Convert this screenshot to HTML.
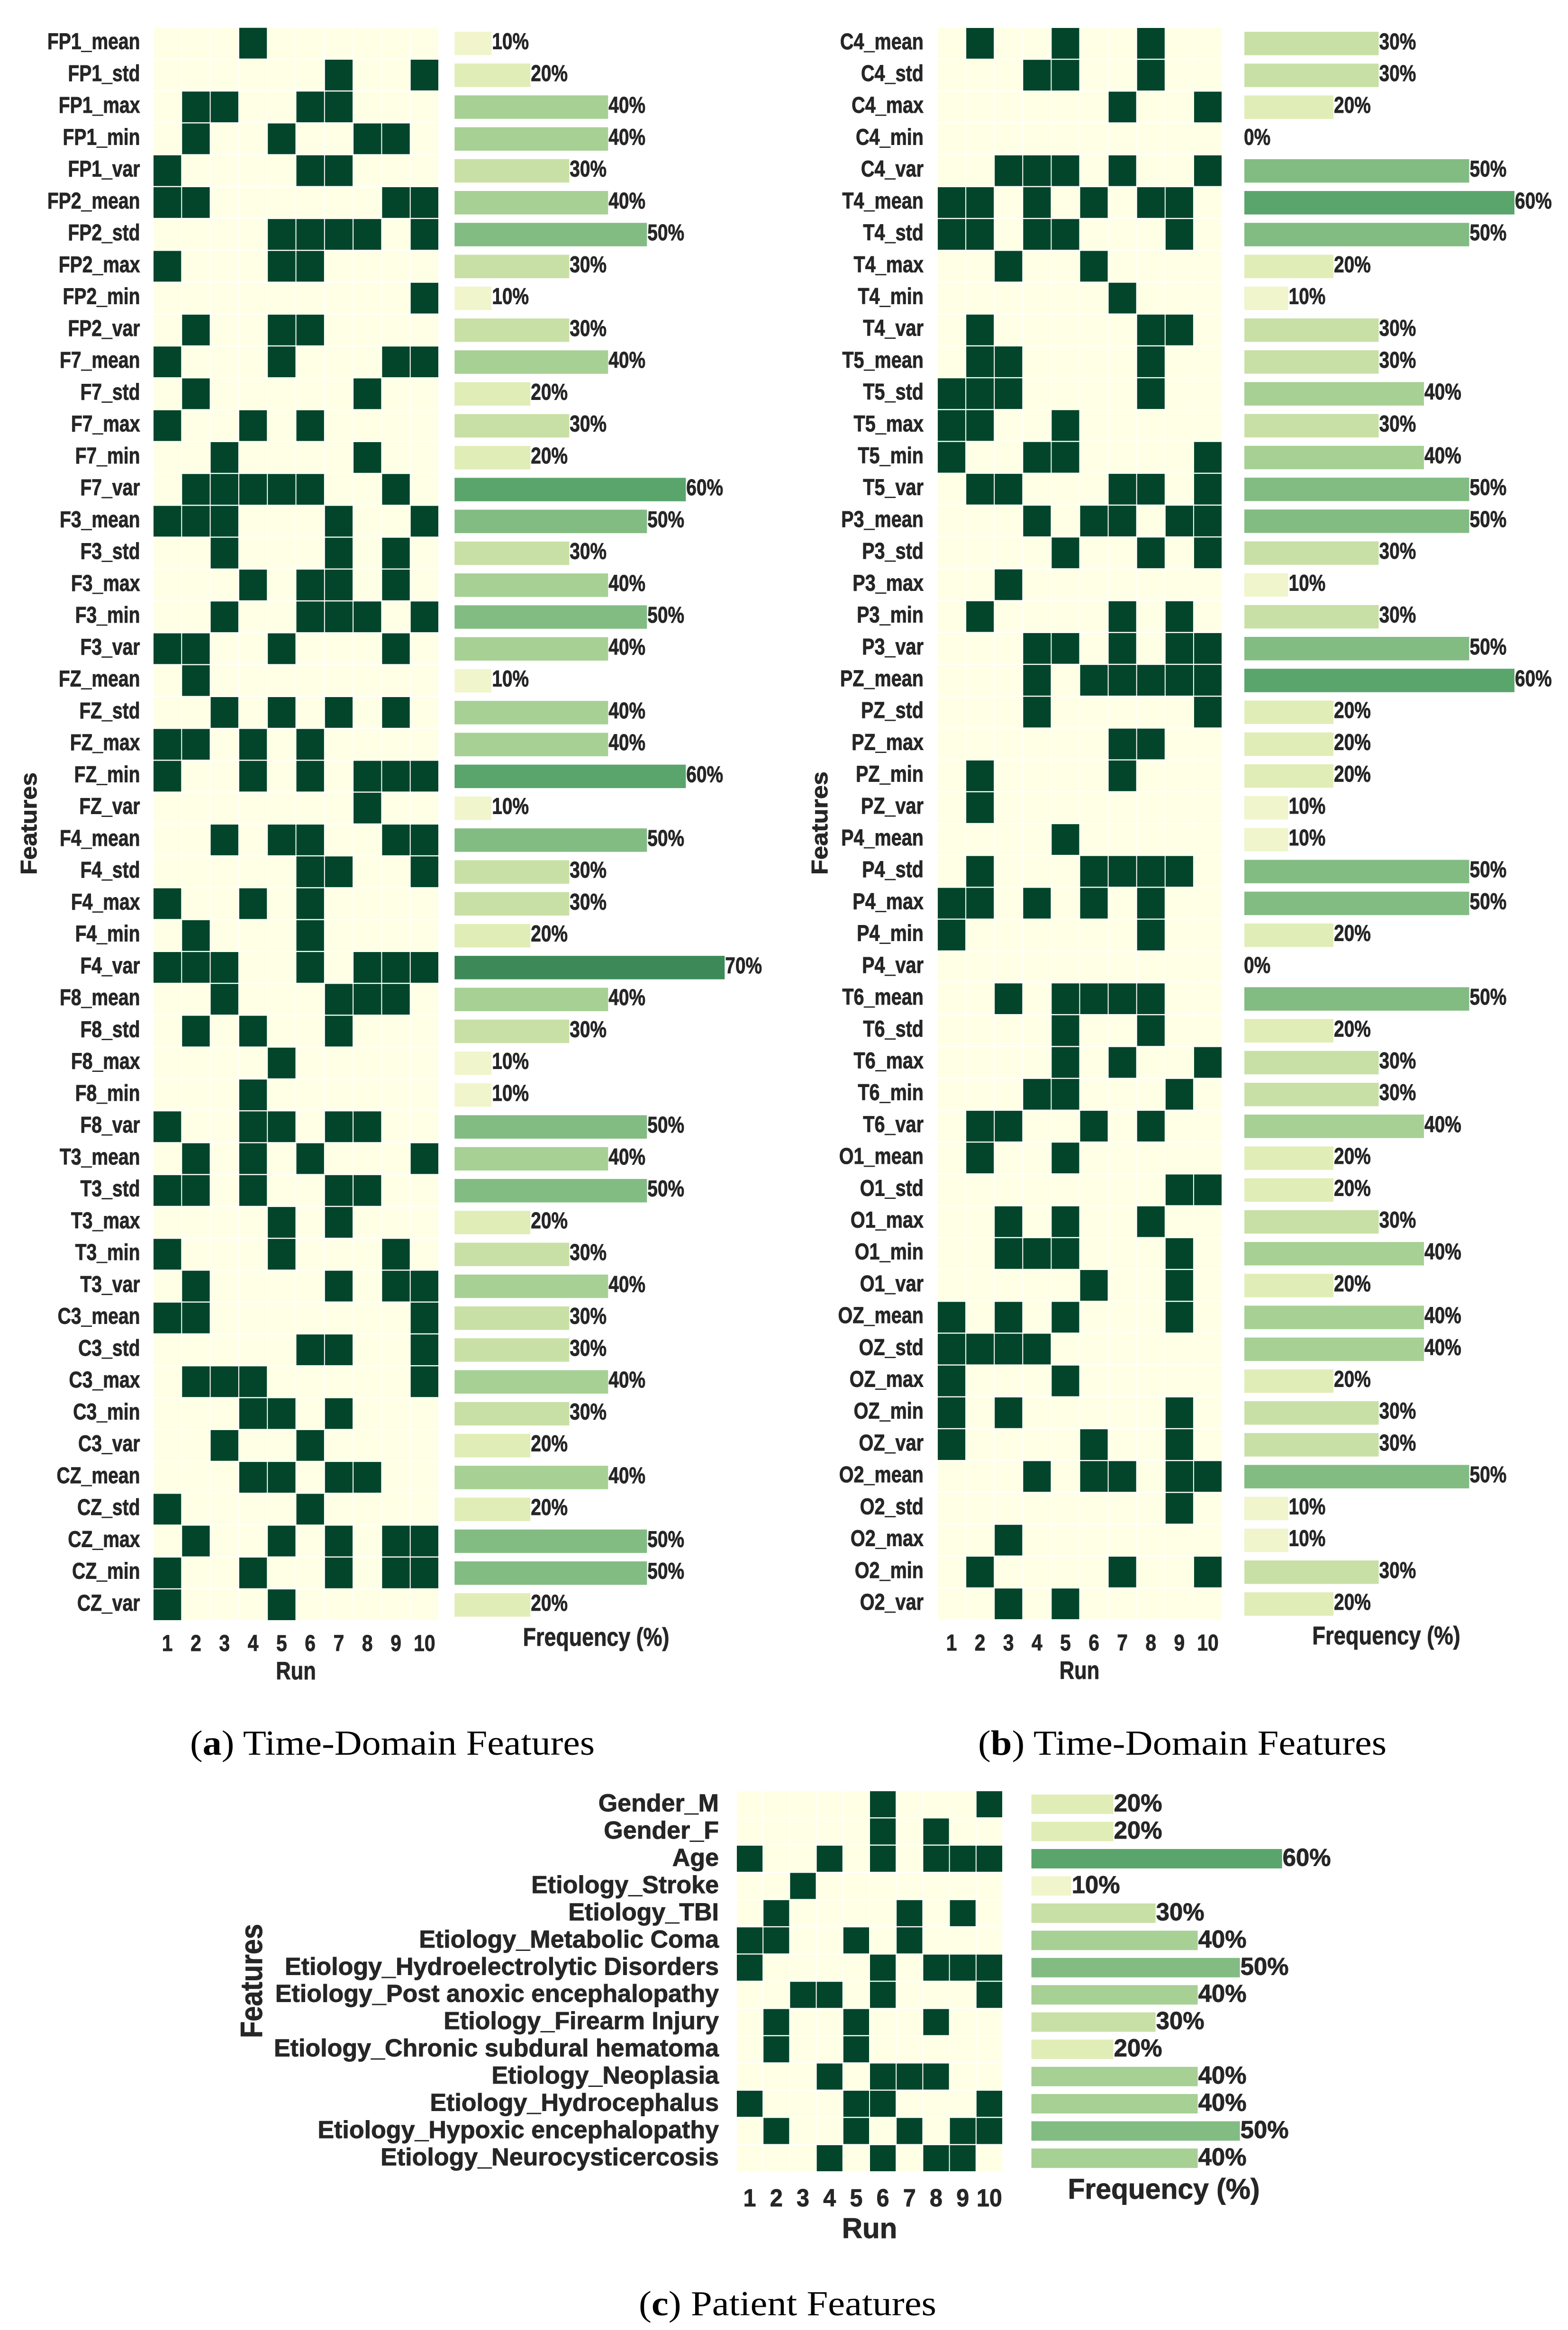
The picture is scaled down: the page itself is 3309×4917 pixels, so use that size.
<!DOCTYPE html>
<html lang="en">
<head>
<meta charset="utf-8">
<title>Feature selection frequency across runs</title>
<style>
  html, body { margin: 0; padding: 0; background: #ffffff; }
  svg { display: block; }
  .sans { font-family: "Liberation Sans", sans-serif; font-weight: 700; fill: #262626; stroke: #262626; stroke-width: 0.9px; }
  .serif { font-family: "Liberation Serif", serif; font-weight: 400; fill: #000000; font-size: 74px; }
</style>
</head>
<body>
<svg xmlns="http://www.w3.org/2000/svg" width="3309" height="4917" viewBox="0 0 3309 4917">
  <rect x="0" y="0" width="3309" height="4917" fill="#ffffff"/>

  <g id="panel-a"></g>
  <g id="panel-b"></g>
  <g id="panel-c"></g>

  <text class="sans" font-size="48" text-anchor="middle" transform="translate(77,1738) rotate(-90) scale(1.08,1)">Features</text>
  <text class="sans" font-size="53" text-anchor="middle" transform="translate(624.5,3544) scale(0.82,1)">Run</text>
  <text class="sans" font-size="54" text-anchor="middle" transform="translate(1258,3473) scale(0.83,1)">Frequency (%)</text>
  <text class="serif" x="401" y="3703" textLength="854" lengthAdjust="spacingAndGlyphs">(<tspan font-weight="700">a</tspan>) Time-Domain Features</text>

  <text class="sans" font-size="48" text-anchor="middle" transform="translate(1746,1737) rotate(-90) scale(1.09,1)">Features</text>
  <text class="sans" font-size="53" text-anchor="middle" transform="translate(2278,3543) scale(0.82,1)">Run</text>
  <text class="sans" font-size="54" text-anchor="middle" transform="translate(2925.5,3470) scale(0.84,1)">Frequency (%)</text>
  <text class="serif" x="2064" y="3703" textLength="862" lengthAdjust="spacingAndGlyphs">(<tspan font-weight="700">b</tspan>) Time-Domain Features</text>

  <text class="sans" font-size="65" text-anchor="middle" transform="translate(553,4180.5) rotate(-90) scale(0.89,1)">Features</text>
  <text class="sans" font-size="60" text-anchor="middle" transform="translate(1835,4723)">Run</text>
  <text class="sans" font-size="60" text-anchor="middle" transform="translate(2456,4640) scale(0.98,1)">Frequency (%)</text>
  <text class="serif" x="1348" y="4886" textLength="628" lengthAdjust="spacingAndGlyphs">(<tspan font-weight="700">c</tspan>) Patient Features</text>
</svg>

<script>
const runLabels = ['1','2','3','4','5','6','7','8','9','10'];

const panelAFeatures = [
  'FP1_mean','FP1_std','FP1_max','FP1_min','FP1_var',
  'FP2_mean','FP2_std','FP2_max','FP2_min','FP2_var',
  'F7_mean','F7_std','F7_max','F7_min','F7_var',
  'F3_mean','F3_std','F3_max','F3_min','F3_var',
  'FZ_mean','FZ_std','FZ_max','FZ_min','FZ_var',
  'F4_mean','F4_std','F4_max','F4_min','F4_var',
  'F8_mean','F8_std','F8_max','F8_min','F8_var',
  'T3_mean','T3_std','T3_max','T3_min','T3_var',
  'C3_mean','C3_std','C3_max','C3_min','C3_var',
  'CZ_mean','CZ_std','CZ_max','CZ_min','CZ_var'
];
const panelASelectedRuns = [
  [4],[7,10],[2,3,6,7],[2,5,8,9],[1,6,7],
  [1,2,9,10],[5,6,7,8,10],[1,5,6],[10],[2,5,6],
  [1,5,9,10],[2,8],[1,4,6],[3,8],[2,3,4,5,6,9],
  [1,2,3,7,10],[3,7,9],[4,6,7,9],[3,6,7,8,10],[1,2,5,9],
  [2],[3,5,7,9],[1,2,4,6],[1,4,6,8,9,10],[8],
  [3,5,6,9,10],[6,7,10],[1,4,6],[2,6],[1,2,3,6,8,9,10],
  [3,7,8,9],[2,4,7],[5],[4],[1,4,5,7,8],
  [2,4,6,10],[1,2,4,7,8],[5,7],[1,5,9],[2,7,9,10],
  [1,2,10],[6,7,10],[2,3,4,10],[4,5,7],[3,6],
  [4,5,7,8],[1,6],[2,5,7,9,10],[1,4,7,9,10],[1,5]
];
const panelAFrequency = [
  10,20,40,40,30, 40,50,30,10,30,
  40,20,30,20,60, 50,30,40,50,40,
  10,40,40,60,10, 50,30,30,20,70,
  40,30,10,10,50, 40,50,20,30,40,
  30,30,40,30,20, 40,20,50,50,20
];

const panelBFeatures = [
  'C4_mean','C4_std','C4_max','C4_min','C4_var',
  'T4_mean','T4_std','T4_max','T4_min','T4_var',
  'T5_mean','T5_std','T5_max','T5_min','T5_var',
  'P3_mean','P3_std','P3_max','P3_min','P3_var',
  'PZ_mean','PZ_std','PZ_max','PZ_min','PZ_var',
  'P4_mean','P4_std','P4_max','P4_min','P4_var',
  'T6_mean','T6_std','T6_max','T6_min','T6_var',
  'O1_mean','O1_std','O1_max','O1_min','O1_var',
  'OZ_mean','OZ_std','OZ_max','OZ_min','OZ_var',
  'O2_mean','O2_std','O2_max','O2_min','O2_var'
];
const panelBSelectedRuns = [
  [2,5,8],[4,5,8],[7,10],[],[3,4,5,7,10],
  [1,2,4,6,8,9],[1,2,4,5,9],[3,6],[7],[2,8,9],
  [2,3,8],[1,2,3,8],[1,2,5],[1,4,5,10],[2,3,7,8,10],
  [4,6,7,9,10],[5,8,10],[3],[2,7,9],[4,5,7,9,10],
  [4,6,7,8,9,10],[4,10],[7,8],[2,7],[2],
  [5],[2,6,7,8,9],[1,2,4,6,8],[1,8],[],
  [3,5,6,7,8],[5,8],[5,7,10],[4,5,9],[2,3,6,8],
  [2,5],[9,10],[3,5,8],[3,4,5,9],[6,9],
  [1,3,5,9],[1,2,3,4],[1,5],[1,3,9],[1,6,9],
  [4,6,7,9,10],[9],[3],[2,7,10],[3,5]
];
const panelBFrequency = [
  30,30,20,0,50, 60,50,20,10,30,
  30,40,30,40,50, 50,30,10,30,50,
  60,20,20,20,10, 10,50,50,20,0,
  50,20,30,30,40, 20,20,30,40,20,
  40,40,20,30,30, 50,10,10,30,20
];

const panelCFeatures = [
  'Gender_M','Gender_F','Age','Etiology_Stroke','Etiology_TBI',
  'Etiology_Metabolic Coma','Etiology_Hydroelectrolytic Disorders',
  'Etiology_Post anoxic encephalopathy','Etiology_Firearm Injury',
  'Etiology_Chronic subdural hematoma','Etiology_Neoplasia',
  'Etiology_Hydrocephalus','Etiology_Hypoxic encephalopathy',
  'Etiology_Neurocysticercosis'
];
const panelCSelectedRuns = [
  [6,10],[6,8],[1,4,6,8,9,10],[3],[2,7,9],
  [1,2,5,7],[1,6,8,9,10],[3,4,6,10],[2,5,8],
  [2,5],[4,6,7,8],[1,5,6,10],[2,5,7,9,10],[4,6,8,9]
];
const panelCFrequency = [20,20,60,10,30,40,50,40,30,20,40,40,50,40];

const barColorSteps = ['#ffffff','#f1f5cb','#e0edb6','#c8e0a5','#a7d094','#82bc83','#5aa56c','#3d8a58','#1f6f45','#0b5535','#03452a'];

const SVG_NS = 'http://www.w3.org/2000/svg';

function makeSvg(parent, tag) {
  const el = document.createElementNS(SVG_NS, tag);
  parent.appendChild(el);
  return el;
}

function drawPanel(root, features, selectedRuns, frequency, layout) {
  const rowStep = (layout.height + layout.rowGap) / features.length;
  const colStep = (layout.width + layout.colGap) / runLabels.length;
  const rowY = i => layout.top + i * rowStep;
  const rowMid = i => rowY(i) + (rowStep - layout.rowGap) / 2;
  const colX = j => layout.left + j * colStep;
  const colMid = j => colX(j) + (colStep - layout.colGap) / 2;
  const barLength = v => (v > 0 ? v * layout.barUnit - layout.barInset : 0);

  features.forEach((feature, i) => {
    const label = makeSvg(root, 'text');
    
    
    label.setAttribute('class', 'sans');
    label.setAttribute('font-size', layout.fontSize);
    label.setAttribute('text-anchor', 'end');
    label.setAttribute('transform', 'translate(' + layout.labelRight + ',' + (rowMid(i) + layout.baseline) + ') scale(' + layout.labelScale + ',1)');
    label.textContent = feature;

    runLabels.forEach((run, j) => {
      const cell = makeSvg(root, 'rect');
      
      
      cell.setAttribute('x', colX(j));
      cell.setAttribute('y', rowY(i));
      cell.setAttribute('width', colStep - layout.colGap);
      cell.setAttribute('height', rowStep - layout.rowGap);
      cell.setAttribute('fill', selectedRuns[i].includes(Number(run)) ? '#03452a' : '#ffffe5');
    });

    const value = frequency[i];
    const len = barLength(value);
    if (len > 0) {
      const bar = makeSvg(root, 'rect');
      
      
      bar.setAttribute('x', layout.barLeft);
      bar.setAttribute('y', rowMid(i) - layout.barHeight / 2 + layout.barShift);
      bar.setAttribute('width', len);
      bar.setAttribute('height', layout.barHeight);
      const step = Math.max(0, Math.min(barColorSteps.length - 1, Math.round(value / 10)));
      bar.setAttribute('fill', barColorSteps[step]);
    }

    const valueLabel = makeSvg(root, 'text');
    
    
    valueLabel.setAttribute('class', 'sans');
    valueLabel.setAttribute('font-size', layout.fontSize);
    valueLabel.setAttribute('transform', 'translate(' + (layout.barLeft + len + (len > 0 ? 1 : -1)) + ',' + (rowMid(i) + layout.baseline) + ') scale(' + layout.valueScale + ',1)');
    valueLabel.textContent = value + '%';
  });

  runLabels.forEach((run, j) => {
    const tick = makeSvg(root, 'text');
    
    
    tick.setAttribute('class', 'sans');
    tick.setAttribute('font-size', layout.fontSize);
    tick.setAttribute('text-anchor', 'middle');
    tick.setAttribute('transform', 'translate(' + colMid(j) + ',' + layout.tickBaseline + ') scale(' + layout.tickScale + ',1)');
    tick.textContent = run;
  });
}

drawPanel(document.getElementById('panel-a'), panelAFeatures, panelASelectedRuns, panelAFrequency, {
  left: 324, width: 601, top: 58.7, height: 3360.3,
  colGap: 2, rowGap: 2.4,
  barLeft: 959.3, barUnit: 8.2, barInset: 4, barHeight: 49.5, barShift: 0.4,
  labelRight: 295.5, labelScale: 0.815, valueScale: 0.81, tickScale: 0.85,
  fontSize: 48, baseline: 12.4, tickBaseline: 3484
});

drawPanel(document.getElementById('panel-b'), panelBFeatures, panelBSelectedRuns, panelBFrequency, {
  left: 1979, width: 599, top: 59, height: 3358,
  colGap: 2, rowGap: 2.4,
  barLeft: 2626, barUnit: 9.55, barInset: 3, barHeight: 49.5, barShift: 0.4,
  labelRight: 1949, labelScale: 0.825, valueScale: 0.81, tickScale: 0.85,
  fontSize: 48, baseline: 12.4, tickBaseline: 3483
});

drawPanel(document.getElementById('panel-c'), panelCFeatures, panelCSelectedRuns, panelCFrequency, {
  left: 1555, width: 560, top: 3780, height: 802,
  colGap: 2, rowGap: 2.4,
  barLeft: 2176.6, barUnit: 8.9, barInset: 5, barHeight: 41, barShift: 0,
  labelRight: 1517, labelScale: 1, valueScale: 0.98, tickScale: 0.93,
  fontSize: 52, baseline: 15, tickBaseline: 4656
});
</script>
</body>
</html>
